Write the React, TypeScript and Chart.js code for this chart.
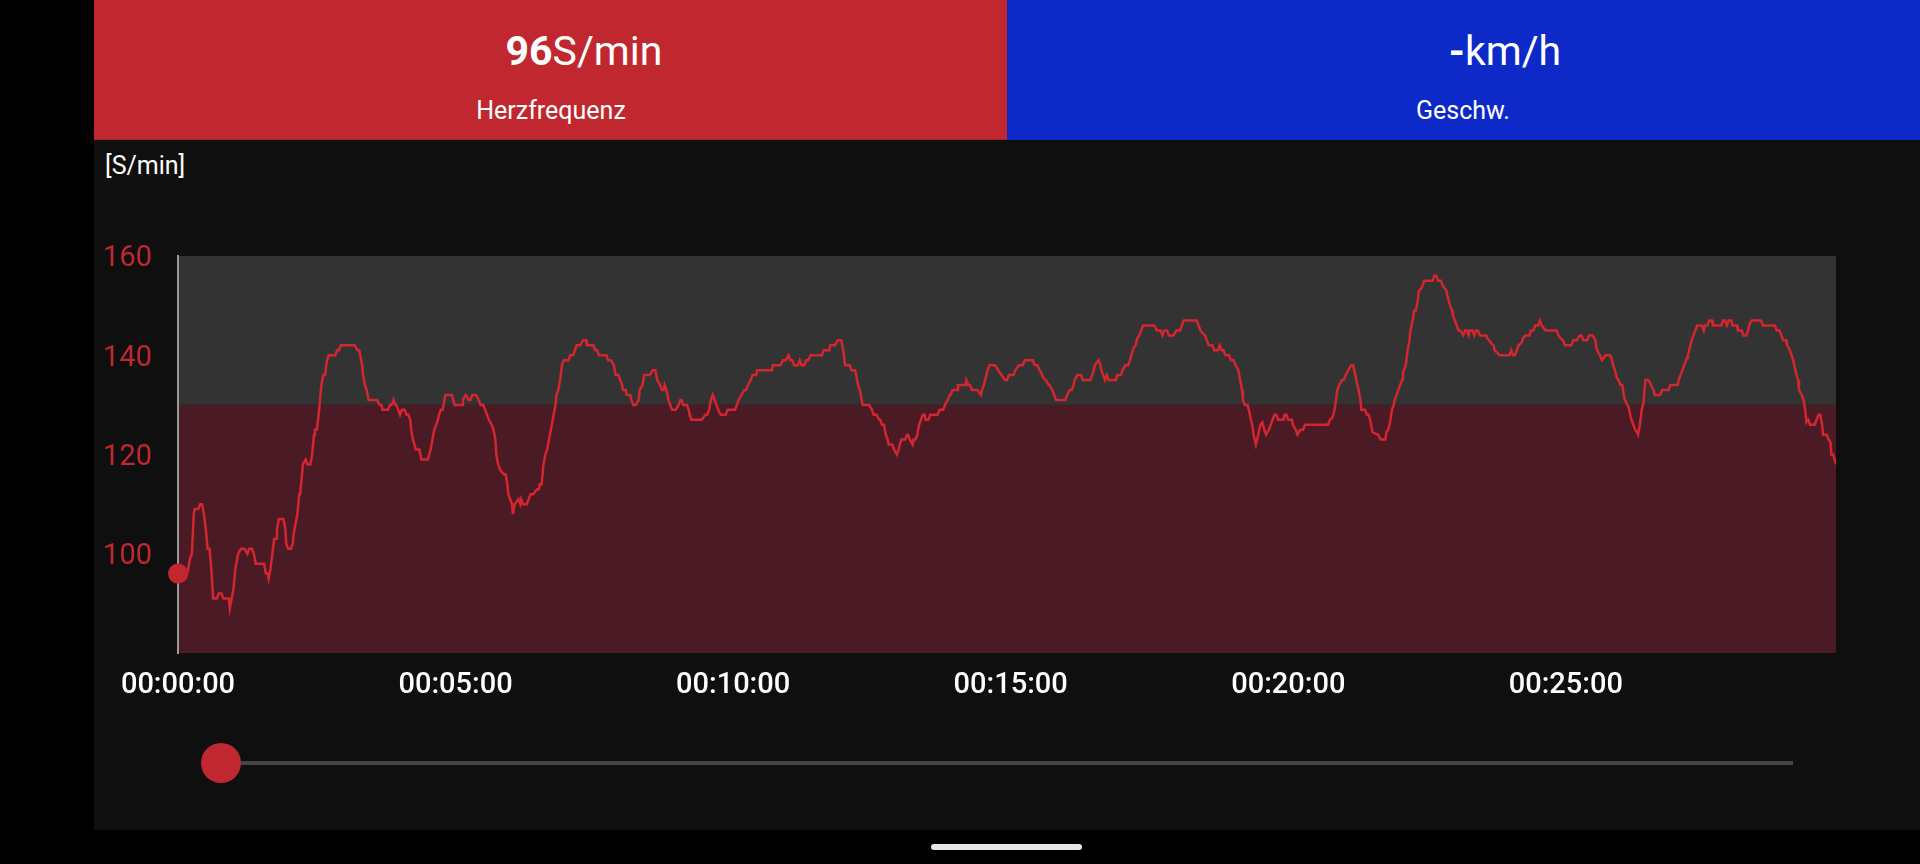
import React, { useEffect, useRef } from "react";
import { Chart, registerables } from "chart.js";

Chart.register(...registerables);

// [elapsed seconds, heart rate bpm]
const heartRateSamples: [number, number][] = [
  [0,96],[5,95],[8,95],[10,96],[13,99],[15,100],[17,108],[18,109],[22,109],[24,110],[26,110],[28,108],[30,105],[32,101],[34,101],[36,97],[38,91],[42,91],[44,92],[47,92],[49,91],[53,91],[55,91],[56,89],[58,91],[60,93],[62,97],[63,98],[65,100],[68,101],[72,101],[75,100],[77,101],[80,101],[82,100],[84,98],[93,98],[95,96],[97,96],[98,95],[100,97],[102,100],[104,103],[106,103],[107,105],[109,107],[114,107],[116,105],[117,102],[119,101],[122,101],[124,102],[125,104],[127,106],[129,108],[131,112],[132,112],[134,116],[135,118],[138,119],[140,118],[143,118],[145,120],[147,124],[148,125],[150,125],[152,128],[154,132],[155,134],[157,136],[159,136],[161,139],[163,140],[164,140],[170,140],[172,141],[174,141],[176,142],[191,142],[194,141],[196,141],[199,138],[200,136],[202,134],[204,133],[206,131],[215,131],[218,130],[220,130],[221,129],[227,129],[229,130],[231,130],[233,131],[235,130],[236,130],[238,129],[240,128],[242,129],[245,129],[247,128],[249,128],[251,127],[252,125],[254,123],[257,121],[261,121],[263,119],[270,119],[273,121],[275,123],[277,125],[279,126],[281,127],[282,128],[284,129],[286,129],[288,131],[289,132],[294,132],
  [296,132],[299,130],[307,130],[308,131],[311,132],[314,131],[316,131],[318,132],[322,132],[325,131],[327,130],[330,130],[332,129],[334,128],[336,127],[339,126],[341,125],[343,123],[344,120],[346,118],[348,117],[352,116],[354,116],[356,114],[357,112],[359,111],[361,110],[362,108],[364,110],[366,110.5],[368,111],[370,110],[371,111],[373,110],[377,110],[379,111],[381,112],[384,112],[386,112.5],[388,113],[390,113],[391,114],[393,114],[395,118],[397,120],[399,121],[400,122],[402,124],[404,126],[406,128],[408,130],[409,132],[411,133],[413,135],[415,138],[417,139],[418,139],[422,139],[424,140],[427,140],[429,141],[431,142],[435,142],[436,142.5],[438,143],[441,143],[442,142],[449,142],[451,141],[453,141],[455,140],[463,140],[465,139],[468,139],[471,138],[473,136],[476,136],[478,135],[480,134],[481,133],[484,133],[485,132],[489,132],[490,131],[492,130],[495,130],[498,131],[499,133],[502,134],[504,136],[510,136],[513,137],[516,137],[518,135],[521,134],[523,133],[525,133],[526,134],[528,133],[530,131],[532,130],[534,129],[538,129],[541,130],[543,131],[544,131],[546,130],[550,130],[552,129],[553,128],[555,127],[566,127],[568,127.5],[570,128],[572,128],[574,129],[576,131],[578,132],[580,131],[582,130],[585,128.5],[587,128],[592,128],[594,129],[602,129],[604,130],[606,131],
  [609,132],[612,133],[614,133],[616,134],[619,135],[621,136],[625,136],[626,137],[642,137],[643,138],[651,138],[654,139],[657,139],[660,140],[662,139],[664,139],[666,138],[670,138],[672,139],[674,138],[677,138],[679,139],[681,139],[684,140],[696,140],[698,141],[704,141],[705,142],[710,142],[713,143],[717,143],[719,141],[721,138],[726,138],[728,137],[732,137],[734,135],[735,134],[737,133],[740,130],[747,130],[750,129],[752,128],[755,128],[758,127],[759,127],[761,126],[763,126],[765,124],[767,123],[768,122],[772,122],[774,121],[777,120],[779,121],[780,122],[782,123],[786,123],[788,124],[789,124],[791,123],[794,122],[795,123],[797,123],[799,124],[801,126],[803,127],[805,128],[807,128],[808,127],[811,127],[813,128],[821,128],[823,129],[827,129],[829,130],[832,131],[834,132],[835,132],[837,133],[842,133],[843,134],[851,134],[852,135],[854,134],[856,134],[858,133],[864,133],[866,132.5],[868,132],[869,133],[871,134],[873,135.5],[875,137],[877,138],[883,138],[885,137.5],[888,136.5],[890,136],[892,135.5],[894,135],[896,135],[898,136],[903,136],[905,137],[907,137.5],[909,138],
  [913,138],[915,139],[924,139],[926,138],[929,138],[931,137],[933,136.5],[935,135.5],[938,135],[941,134],[942,134],[945,133],[947,132],[949,131],[959,131],[961,132],[964,133],[966,133],[968,134],[969,135],[972,136],[976,136],[978,135],[986,135],[988,136],[989,136.5],[991,138],[993,138.5],[995,139],[997,138],[998,137],[1000,136],[1002,135],[1004,136],[1006,135],[1014,135],[1015,136],[1019,136],[1021,137],[1024,138],[1027,138],[1029,139],[1031,140.5],[1033,141.5],[1035,142],[1037,143.5],[1039,144],[1041,145],[1043,146],[1055,146],[1058,145],[1062,145],[1064,144],[1066,145],[1069,145],[1071,144],[1076,144],[1079,145],[1083,145],[1085,146],[1087,147],[1101,147],[1103,146],[1105,145],[1107,144.5],[1110,144],[1112,143],[1114,142],[1118,142],[1120,141],[1124,141],[1126,142],[1128,141],[1130,141],[1132,140],[1136,140],[1138,139],[1141,139],[1143,138],[1146,137],[1148,135],[1150,133],[1151,131],[1153,130],[1156,130],[1158,128.5],[1159,127.5],[1161,126],[1163,123.5],[1165,122],[1167,123.5],[1168,124.5],[1170,126],[1172,126.5],[1174,125],[1176,124],[1177,124],[1179,125],[1181,126],[1183,127],[1185,128],[1187,128],[1189,127],[1195,127],[1196,128],[1198,128],[1200,127],[1204,127],[1205,126],[1208,125],[1210,124],[1213,125],
  [1216,125],[1218,126],[1243,126],[1245,127],[1248,127.5],[1250,129],[1252,131.5],[1253,133],[1255,134],[1258,135],[1260,135],[1262,136],[1265,137],[1268,138],[1270,138],[1272,136.5],[1274,134.5],[1276,133],[1278,131],[1279,129],[1283,129],[1285,128],[1287,128],[1289,126.5],[1291,124.5],[1297,124],[1300,123],[1305,123],[1306,124.5],[1308,125],[1310,126.5],[1312,129],[1314,130],[1315,131],[1317,132],[1319,133],[1321,134],[1323,135],[1324,136.5],[1326,137.5],[1327,138],[1329,141],[1331,143],[1332,145],[1335,147.5],[1336,149],[1338,149],[1340,151],[1341,153],[1344,153.5],[1345,154],[1347,155],[1356,155],[1358,156],[1360,156],[1362,155],[1365,155],[1367,154],[1369,153.5],[1371,153],[1372,152],[1374,150.5],[1377,149],[1378,148],[1380,147],[1382,146],[1384,145],[1386,145],[1389,144],[1391,145],[1393,145],[1395,144],[1396,145],[1399,145],[1401,144],[1403,145],[1405,145],[1407,144],[1410,144],[1412,144],[1414,144],[1415,143.5],[1417,143],[1419,142.5],[1422,142],[1423,141],[1426,140.5],[1428,140],[1439,140],[1441,141],[1443,140],[1445,140],[1447,141],[1449,142],[1452,142.5],[1454,143.5],[1456,144],[1461,144],[1462,145],[1465,145],[1467,146],[1470,146],[1472,147],[1474,146],[1476,145.5],[1478,145],[1490,145],[1492,144],[1494,143.5],[1497,143],[1499,142],[1506,142],[1508,143],[1512,143],[1515,144],
  [1517,144],[1519,143],[1523,143],[1525,144],[1529,144],[1532,143],[1533,141.5],[1535,140.5],[1537,140],[1539,139],[1541,139.5],[1543,140],[1548,140],[1550,139],[1551,138],[1553,137],[1555,135.5],[1557,135],[1559,134],[1561,134],[1563,131.5],[1565,130.5],[1568,129.5],[1569,128.5],[1571,127],[1573,126],[1575,125],[1577,124.5],[1578,124],[1580,126],[1582,129],[1584,130.5],[1585,133],[1586,135],[1589,135],[1591,134.5],[1593,133.5],[1595,133],[1596,132],[1602,132],[1604,133],[1611,133],[1613,134],[1621,134],[1622,135],[1624,136],[1626,137],[1628,138],[1631,139.5],[1632,140],[1634,141.5],[1636,143],[1638,144],[1640,145],[1642,146],[1647,146],[1649,145],[1650,146],[1653,146],[1655,147],[1658,147],[1659,146],[1668,146],[1670,147],[1672,147],[1674,146],[1676,147],[1679,147],[1680,146],[1685,146],[1686,145],[1690,145],[1692,144],[1695,144],[1697,145],[1699,146.5],[1701,147],[1711,147],[1713,146],[1726,146],[1728,145],[1731,145],[1733,144],[1735,143],[1738,143],[1739,142],[1741,141.5],[1743,140.5],[1745,139.5],[1747,138],[1748,137],[1751,135],[1752,133],[1755,132],[1757,131],[1759,128.5],[1760,126.5],[1762,127],[1764,126],[1769,126],[1771,127],[1773,128],[1775,128],[1777,126],[1778,124],[1782,124],[1784,123],[1786,122.5],[1787,120],[1789,120],[1792,118],
];

const currentTimeSec = 0;
const currentHeartRate = 96;
const durationSec = 1792;
const xTickSeconds = [0, 300, 600, 900, 1200, 1500];
const yTickValues = [100, 120, 140, 160];
const yMin = 80;
const yMax = 160;
const zoneBounds = [80, 130, 160];
const zoneColors = ["#4a1a25", "#333333"];

const RED = "#c1272f";
const BLUE = "#0d29c8";

function formatHMS(sec: number): string {
  const h = Math.floor(sec / 3600);
  const m = Math.floor((sec % 3600) / 60);
  const s = Math.floor(sec % 60);
  return [h, m, s].map((v) => String(v).padStart(2, "0")).join(":");
}

const zonePlugin = {
  id: "hrZones",
  beforeDraw(chart: any) {
    const { ctx, chartArea, scales } = chart;
    const y = scales.y;
    ctx.save();
    for (let i = 0; i < zoneColors.length; i++) {
      const top = y.getPixelForValue(zoneBounds[i + 1]);
      const bottom = y.getPixelForValue(zoneBounds[i]);
      ctx.fillStyle = zoneColors[i];
      ctx.fillRect(chartArea.left, top, chartArea.right - chartArea.left, bottom - top);
    }
    ctx.restore();
  },
};

function HeartRateChart() {
  const ref = useRef<HTMLCanvasElement | null>(null);
  useEffect(() => {
    if (!ref.current) return;
    const chart = new Chart(ref.current, {
      type: "line",
      data: {
        datasets: [
          {
            data: [{ x: currentTimeSec, y: currentHeartRate }],
            pointRadius: 10,
            pointBackgroundColor: RED,
            pointBorderWidth: 0,
            borderColor: RED,
            showLine: false,
            clip: false as any,
            order: 0,
          },
          {
            data: heartRateSamples.map(([x, y]) => ({ x, y })),
            borderColor: "#d4262f",
            borderWidth: 2.5,
            pointRadius: 0,
            tension: 0,
            fill: false,
            order: 1,
          },
        ],
      },
      options: {
        responsive: false,
        animation: false,
        events: [],
        layout: { padding: { top: 116, right: 84, left: 0, bottom: 0 } },
        plugins: { legend: { display: false }, tooltip: { enabled: false } },
        scales: {
          x: {
            type: "linear",
            min: 0,
            max: durationSec,
            afterBuildTicks: (s: any) => {
              s.ticks = xTickSeconds.map((v) => ({ value: v }));
            },
            afterFit: (s: any) => {
              s.height = 177;
            },
            grid: { display: false, drawTicks: false },
            border: { display: false },
            ticks: {
              color: "#ffffff",
              font: { family: "Roboto", size: 29, weight: "500" as any },
              padding: 15,
              maxRotation: 0,
              autoSkip: false,
              callback: (v: any) => formatHMS(Number(v)),
            },
          },
          y: {
            type: "linear",
            min: yMin,
            max: yMax,
            afterBuildTicks: (s: any) => {
              s.ticks = yTickValues.map((v) => ({ value: v }));
            },
            afterFit: (s: any) => {
              s.width = 84;
            },
            grid: { display: false, drawTicks: false },
            border: { display: true, color: "#9a9a9a", width: 2 },
            ticks: {
              color: RED,
              font: { family: "Roboto", size: 29 },
              padding: 26,
              labelOffset: 3,
            },
          },
        },
      },
      plugins: [zonePlugin],
    });
    return () => chart.destroy();
  }, []);
  return (
    <canvas
      ref={ref}
      width={1826}
      height={690}
      style={{ position: "absolute", left: 0, top: 0, width: 1826, height: 690 }}
    />
  );
}

export default function App() {
  const font = "Roboto, 'Noto Sans', sans-serif";
  return (
    <div style={{ position: "fixed", left: 0, top: 0, width: 1920, height: 864, background: "#000", fontFamily: font, overflow: "hidden" }}>
      {/* header tiles */}
      <div style={{ position: "absolute", left: 94, top: 0, width: 913, height: 140, background: RED, borderBottom: "1px solid #a8222a", boxSizing: "border-box" }} />
      <div style={{ position: "absolute", left: 1007, top: 0, width: 913, height: 140, background: BLUE }} />
      <div style={{ position: "absolute", left: 584, top: 31, transform: "translateX(-50%)", fontSize: 41, lineHeight: "41px", color: "#fff", whiteSpace: "nowrap" }}>
        <span style={{ fontWeight: 700 }}>96</span>S/min
      </div>
      <div style={{ position: "absolute", left: 551, top: 98, transform: "translateX(-50%)", fontSize: 25, lineHeight: "25px", color: "#fff", whiteSpace: "nowrap" }}>
        Herzfrequenz
      </div>
      <div style={{ position: "absolute", left: 1505, top: 31, transform: "translateX(-50%)", fontSize: 41, lineHeight: "41px", color: "#fff", whiteSpace: "nowrap" }}>
        <span style={{ fontWeight: 700 }}>-</span>km/h
      </div>
      <div style={{ position: "absolute", left: 1463, top: 98, transform: "translateX(-50%)", fontSize: 25, lineHeight: "25px", color: "#fff", whiteSpace: "nowrap" }}>
        Geschw.
      </div>
      {/* chart panel */}
      <div style={{ position: "absolute", left: 94, top: 140, width: 1826, height: 690, background: "#0f0f0f" }}>
        <div style={{ position: "absolute", left: 11, top: 13, fontSize: 25, lineHeight: "25px", color: "#fff", whiteSpace: "nowrap" }}>[S/min]</div>
        <HeartRateChart />
        {/* slider */}
        <div style={{ position: "absolute", left: 127, top: 621, width: 1572, height: 4, background: "#444" }} />
        <div style={{ position: "absolute", left: 107, top: 603, width: 40, height: 40, borderRadius: 20, background: RED }} />
      </div>
      {/* nav pill */}
      <div style={{ position: "absolute", left: 931, top: 844, width: 151, height: 6, borderRadius: 3, background: "#e6e6e6" }} />
    </div>
  );
}
